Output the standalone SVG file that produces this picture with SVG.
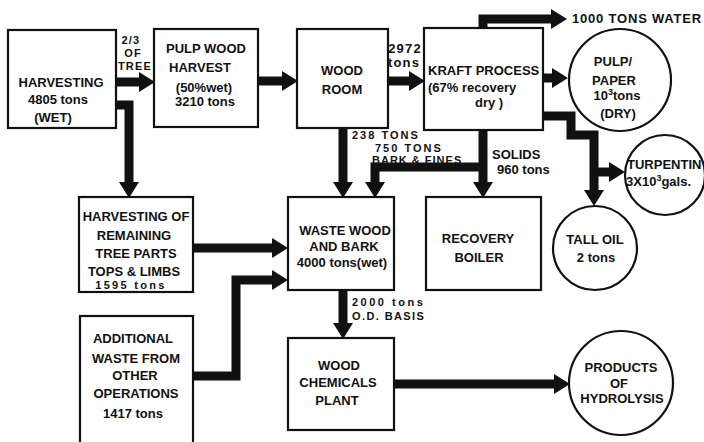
<svg xmlns="http://www.w3.org/2000/svg" width="704" height="442" viewBox="0 0 704 442">
<style>
.box{fill:#fff;stroke:#111;stroke-width:2.2}
.c{fill:none;stroke:#111;stroke-width:9;stroke-linejoin:miter}
text{font-family:"Liberation Sans",Arial,sans-serif;font-weight:bold;font-size:13px;fill:#111}
.m{text-anchor:middle}
.s{font-size:11px}
</style>
<defs>
<marker id="ah" viewBox="0 -10 16 20" markerWidth="16" markerHeight="20" markerUnits="userSpaceOnUse" refX="0" refY="0" orient="auto">
<path d="M0,-10 L16,0 L0,10 z" fill="#111"/>
</marker>
</defs>
<rect width="704" height="442" fill="#fff"/>
<g id="connectors">
<path class="c" d="M116 82 H139" marker-end="url(#ah)"/>
<path class="c" d="M258 81 H282" marker-end="url(#ah)"/>
<path class="c" d="M388 81 H409" marker-end="url(#ah)"/>
<path class="c" d="M543 78 H552" marker-end="url(#ah)"/>
<path class="c" d="M483 28 V19 H551" marker-end="url(#ah)"/>
<path class="c" d="M116 105 H129 V182" marker-end="url(#ah)"/>
<path class="c" d="M193 248 H272" marker-end="url(#ah)"/>
<path class="c" d="M193 376 H236 V280 H272" marker-end="url(#ah)"/>
<path class="c" d="M343 128 V182" marker-end="url(#ah)"/>
<path class="c" d="M483 130 V182" marker-end="url(#ah)"/>
<path class="c" d="M483 167 H375 V182" marker-end="url(#ah)"/>
<path class="c" d="M543 116 H571 V135 H594 V190" marker-end="url(#ah)"/>
<path class="c" d="M594 172 H609" marker-end="url(#ah)"/>
<path class="c" d="M343 290 V323" marker-end="url(#ah)"/>
<path class="c" d="M394 384 H554" marker-end="url(#ah)"/>
</g>
<g id="harvesting">
<rect class="box" x="8" y="30" width="108" height="98"/>
<text class="m" x="61" y="87">HARVESTING</text>
<text class="m" x="58" y="104">4805 tons</text>
<text class="m" x="53" y="122">(WET)</text>
</g>
<g id="label-two-thirds">
<text class="m s" x="131" y="44" letter-spacing="1.2">2/3</text>
<text class="m s" x="133" y="57" letter-spacing="1.2">OF</text>
<text class="m s" x="135" y="70" letter-spacing="1.2">TREE</text>
</g>
<g id="pulpwood">
<rect class="box" x="154" y="29" width="104" height="98"/>
<text class="m" x="206" y="53">PULP WOOD</text>
<text class="m" x="200" y="72">HARVEST</text>
<text class="m" x="204" y="92">(50%wet)</text>
<text class="m" x="205" y="106">3210 tons</text>
</g>
<g id="woodroom">
<rect class="box" x="297" y="29" width="91" height="99"/>
<text class="m" x="342" y="75">WOOD</text>
<text class="m" x="342" y="94">ROOM</text>
</g>
<g id="label-2972">
<text class="m" x="405" y="53" font-size="10" letter-spacing="1.2">2972</text>
<text class="m" x="404" y="67" font-size="10" letter-spacing="1.2">tons</text>
</g>
<g id="kraft">
<rect class="box" x="424" y="28" width="119" height="102"/>
<text x="428" y="75">KRAFT PROCESS</text>
<text x="428" y="92">(67% recovery</text>
<text x="475" y="107">dry )</text>
</g>
<g id="water">
<text x="572" y="23" letter-spacing="0.8">1000 TONS WATER</text>
</g>
<g id="pulppaper">
<circle class="box" cx="620" cy="80" r="51"/>
<text class="m" x="613" y="66">PULP/</text>
<text class="m" x="614" y="85">PAPER</text>
<text class="m" x="617" y="100">10<tspan dy="-5" font-size="9">3</tspan><tspan dy="5">tons</tspan></text>
<text class="m" x="618" y="118">(DRY)</text>
</g>
<g id="remaining">
<rect class="box" x="79" y="197" width="114" height="95"/>
<text class="m" x="136" y="221">HARVESTING OF</text>
<text class="m" x="134" y="240">REMAINING</text>
<text class="m" x="136" y="258">TREE PARTS</text>
<text class="m" x="134" y="276">TOPS &amp; LIMBS</text>
<text class="m s" x="131" y="289" letter-spacing="2.3">1595 tons</text>
</g>
<g id="wastewood">
<rect class="box" x="288" y="197" width="106" height="93"/>
<text class="m" x="345" y="235">WASTE WOOD</text>
<text class="m" x="344" y="251">AND BARK</text>
<text class="m" x="342" y="267">4000 tons(wet)</text>
</g>
<g id="label-bark">
<text class="s" x="352" y="139" letter-spacing="2">238 TONS</text>
<text class="s" x="375" y="151.5" letter-spacing="2">750 TONS</text>
<text class="s" x="372" y="164" letter-spacing="1">BARK &amp; FINES</text>
</g>
<g id="label-solids">
<text x="492" y="159">SOLIDS</text>
<text x="497" y="174">960 tons</text>
</g>
<g id="recovery">
<rect class="box" x="426" y="197" width="115" height="93"/>
<text class="m" x="478" y="243">RECOVERY</text>
<text class="m" x="479" y="262">BOILER</text>
</g>
<g id="talloil">
<circle class="box" cx="595" cy="248" r="42"/>
<text class="m" x="595" y="244">TALL OIL</text>
<text class="m" x="596" y="262">2 tons</text>
</g>
<g id="turpentine">
<circle class="box" cx="665" cy="175" r="40"/>
<text x="627" y="169">TURPENTIN</text>
<text x="626" y="186">3X10<tspan dy="-5" font-size="9">3</tspan><tspan dy="5">gals.</tspan></text>
</g>
<g id="additional">
<rect class="box" x="80" y="316" width="113" height="140"/>
<text class="m" x="133" y="343">ADDITIONAL</text>
<text class="m" x="136" y="363">WASTE FROM</text>
<text class="m" x="135" y="380">OTHER</text>
<text class="m" x="136" y="398">OPERATIONS</text>
<text class="m" x="133" y="418">1417 tons</text>
</g>
<g id="label-2000">
<text class="s" x="352" y="306" letter-spacing="2.5">2000 tons</text>
<text class="s" x="352" y="319.5" letter-spacing="1.4">O.D. BASIS</text>
</g>
<g id="chemicals">
<rect class="box" x="288" y="338" width="106" height="92"/>
<text class="m" x="339" y="370">WOOD</text>
<text class="m" x="338" y="387">CHEMICALS</text>
<text class="m" x="337" y="405">PLANT</text>
</g>
<g id="products">
<circle class="box" cx="621" cy="383" r="52"/>
<text class="m" x="621" y="372">PRODUCTS</text>
<text class="m" x="619" y="388">OF</text>
<text class="m" x="622" y="403">HYDROLYSIS</text>
</g>
</svg>
